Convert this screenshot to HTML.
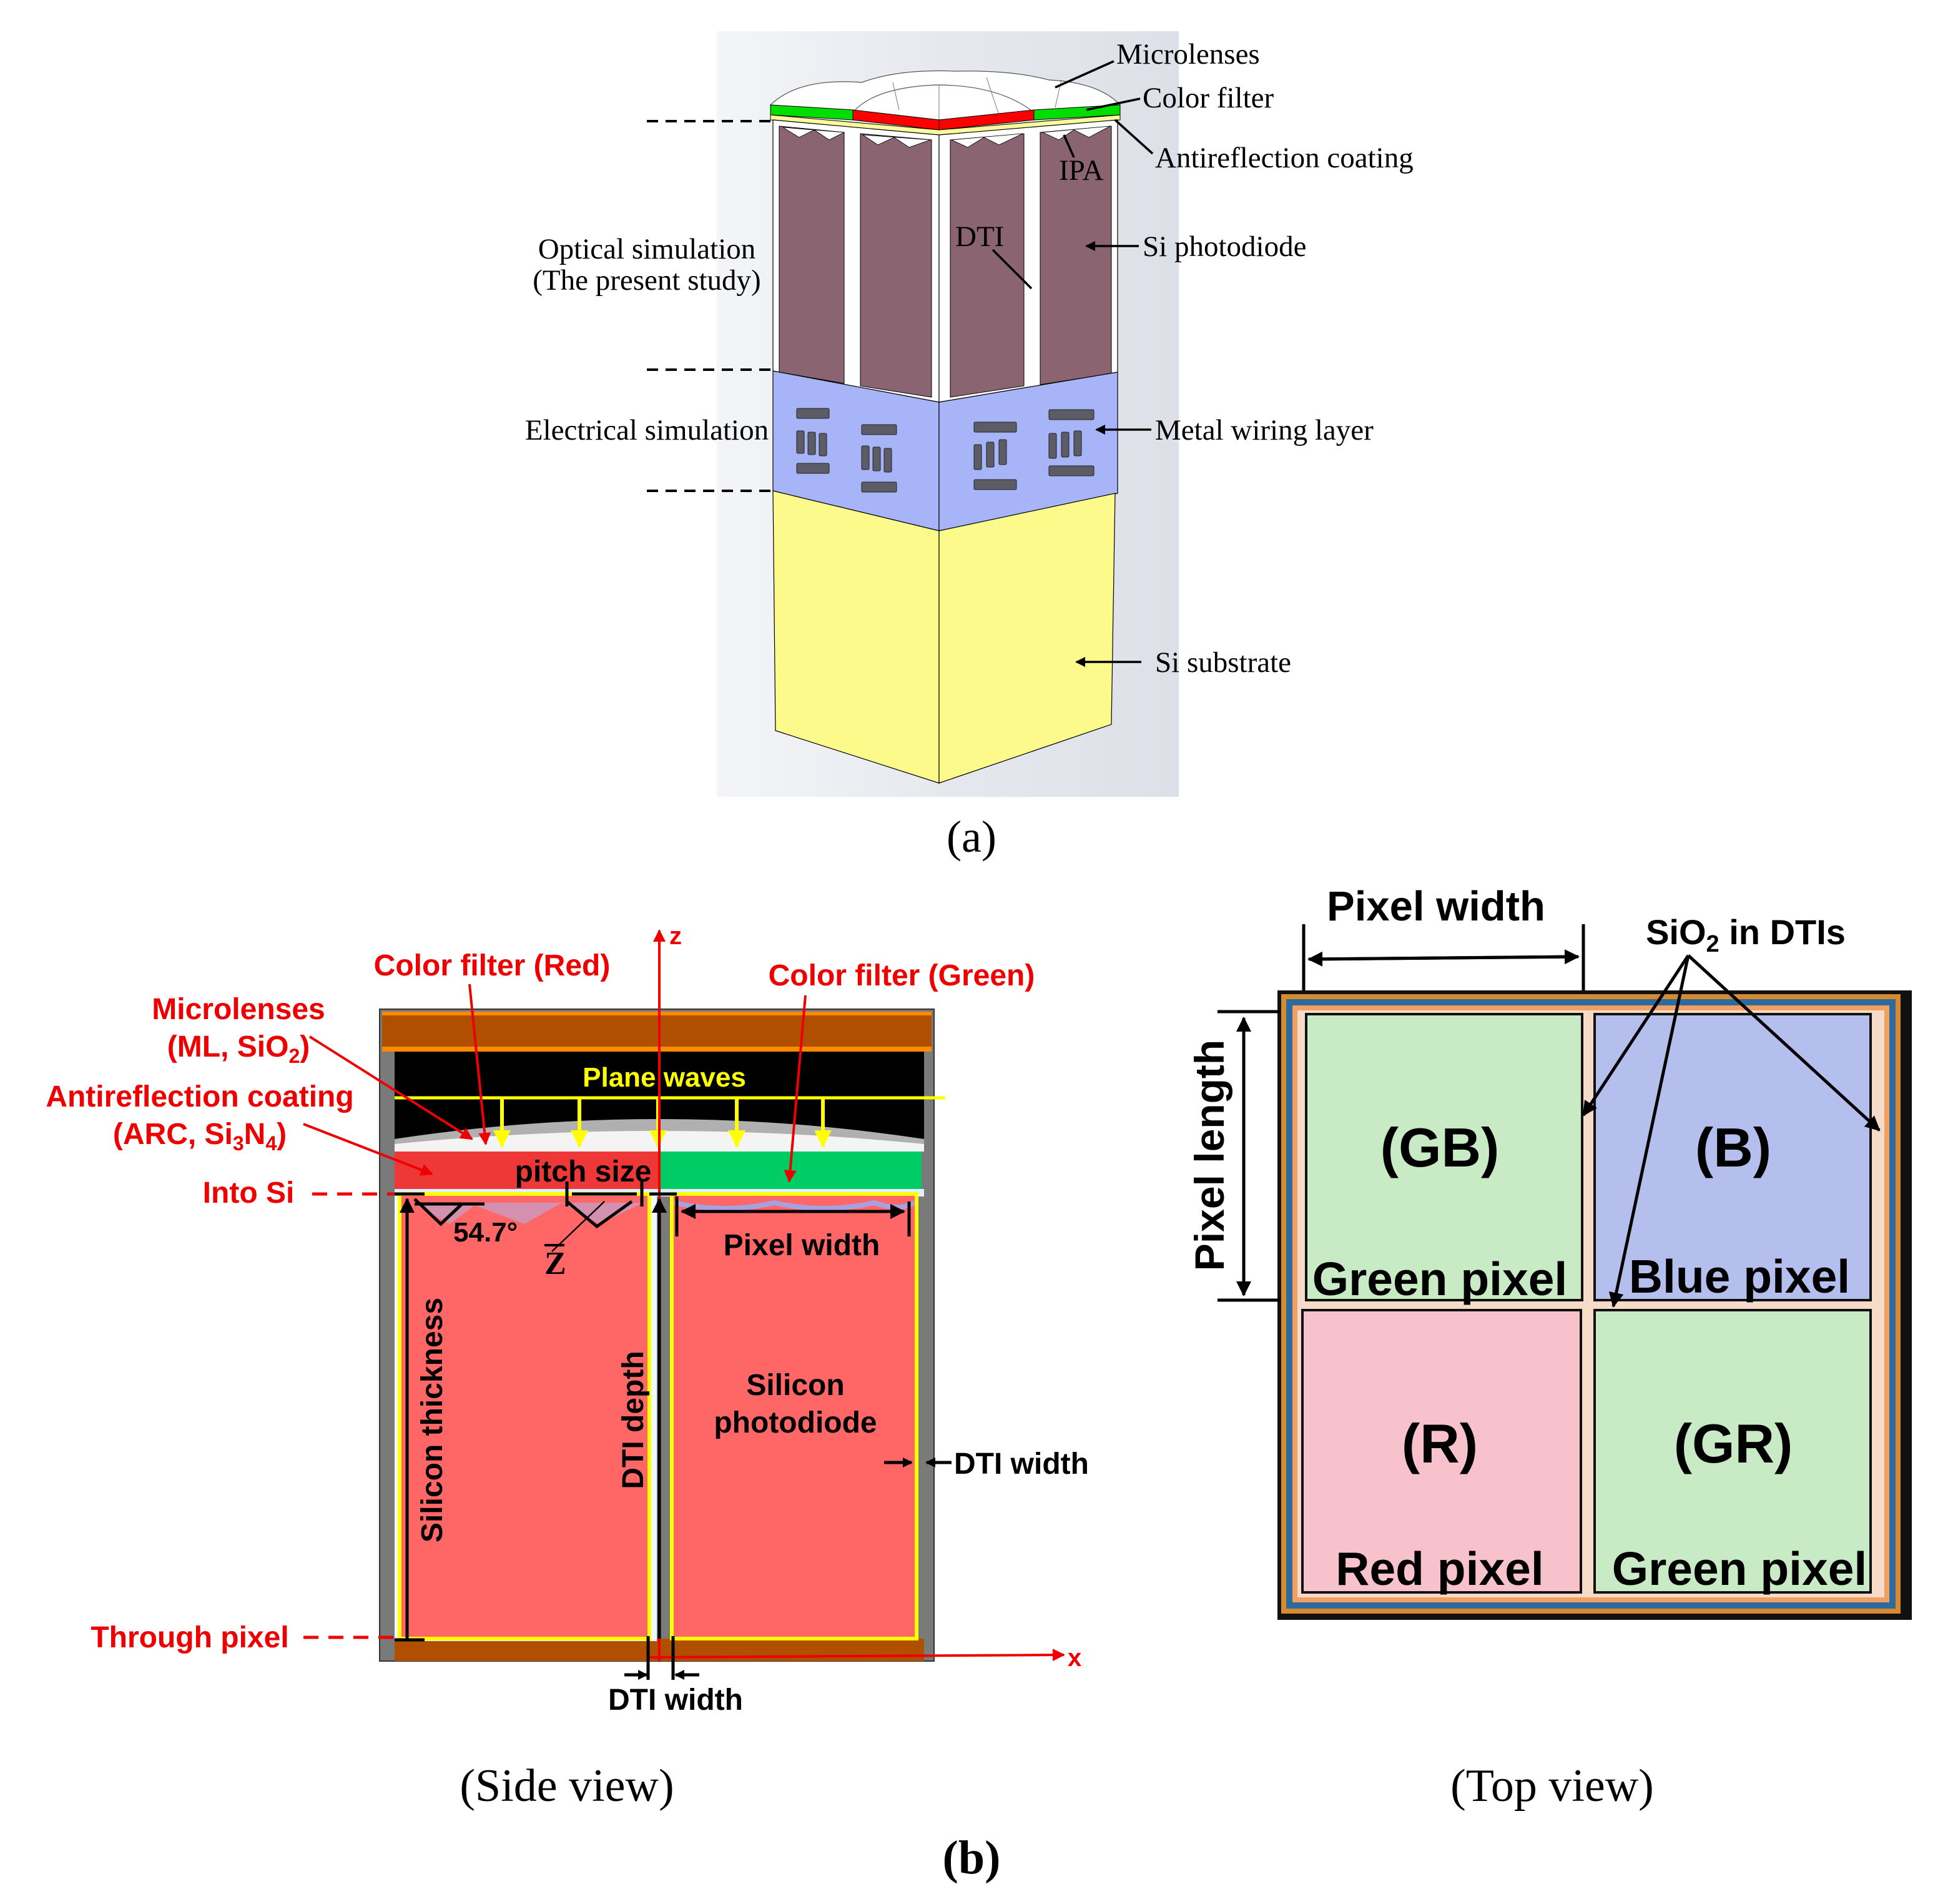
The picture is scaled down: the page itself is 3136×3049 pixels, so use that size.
<!DOCTYPE html>
<html><head><meta charset="utf-8"><style>
html,body{margin:0;padding:0;background:#fff;width:3136px;height:3049px;overflow:hidden}
svg{display:block}
.s{font-family:"Liberation Serif",serif}
.a{font-family:"Liberation Sans",sans-serif;font-weight:bold}
</style></head><body>
<svg width="3136" height="3049" viewBox="0 0 1568 1524.5" xmlns="http://www.w3.org/2000/svg">
<defs>
<marker id="ab" markerWidth="8" markerHeight="8" refX="7" refY="4" orient="auto" markerUnits="userSpaceOnUse"><path d="M0,0 L8,4 L0,8 z" fill="#000"/></marker>
<marker id="ar" markerWidth="10" markerHeight="10" refX="9" refY="5" orient="auto" markerUnits="userSpaceOnUse"><path d="M0,0 L10,5 L0,10 z" fill="#e00"/></marker>
<marker id="ay" markerWidth="14" markerHeight="14" refX="13" refY="7" orient="auto" markerUnits="userSpaceOnUse"><path d="M0,0 L14,7 L0,14 z" fill="#ff0"/></marker>
<marker id="ak" markerWidth="12" markerHeight="12" refX="11" refY="6" orient="auto" markerUnits="userSpaceOnUse"><path d="M0,0 L12,6 L0,12 z" fill="#000"/></marker>
<linearGradient id="bg" x1="0" x2="1"><stop offset="0" stop-color="#f4f5f8"/><stop offset="0.5" stop-color="#e6e8ee"/><stop offset="1" stop-color="#dde0e8"/></linearGradient>
</defs>

<!-- (a) -->
<rect x="574" y="25" width="370" height="613" fill="url(#bg)"/>
<path d="M617,84 Q640,62 690,66 Q720,55 765,57 Q810,56 840,64 Q880,66 897,84 L828,90 L752,96 L683,90 Z" fill="#fff" stroke="#555" stroke-width="0.6"/>
<path d="M683,90 Q700,70 750,68 Q800,68 828,90" fill="none" stroke="#555" stroke-width="0.6"/>
<path d="M752,96 L752,68 M715,66 L720,88 M790,62 L800,92 M850,64 L845,86" stroke="#777" stroke-width="0.5"/>
<polygon points="617,84 683,88 683,96 617,92" fill="#00dd00" stroke="#000" stroke-width="0.5"/>
<polygon points="683,88 752,96 752,104 683,96" fill="#ff0000" stroke="#000" stroke-width="0.5"/>
<polygon points="752,96 828,88 828,96 752,104" fill="#ff0000" stroke="#000" stroke-width="0.5"/>
<polygon points="828,88 897,84 897,92 828,96" fill="#00dd00" stroke="#000" stroke-width="0.5"/>
<polygon points="617,92 752,104 897,92 897,96 752,108 617,96" fill="#fdfa9c" stroke="#000" stroke-width="0.5"/>
<polygon points="619,96 752,108 752,322 619,297" fill="#fff" stroke="#000" stroke-width="0.6"/>
<polygon points="752,108 895,96 895,298 752,322" fill="#fff" stroke="#000" stroke-width="0.6"/>
<polygon points="624,101 676,106 676,307 624,298" fill="#8a6470" stroke="#000" stroke-width="0.5"/>
<polygon points="689,107 746,112 746,318 689,309" fill="#8a6470" stroke="#000" stroke-width="0.5"/>
<polygon points="761,112 820,107 820,309 761,318" fill="#8a6470" stroke="#000" stroke-width="0.5"/>
<polygon points="833,106 890,101 890,299 833,308" fill="#8a6470" stroke="#000" stroke-width="0.5"/>
<g fill="#fff" stroke="#000" stroke-width="0.4">
<path d="M627,102 L640,110 L652,104 L664,112 L676,106 Z"/><path d="M691,108 L703,116 L716,110 L728,118 L745,112 Z"/>
<path d="M762,112 L775,118 L788,110 L800,116 L819,107 Z"/><path d="M835,106 L848,112 L860,104 L872,110 L889,101 Z"/>
</g>
<polygon points="619,297 752,322 752,425 619,393" fill="#a8b4f8" stroke="#000" stroke-width="0.6"/>
<polygon points="752,322 895,298 895,395 752,425" fill="#a8b4f8" stroke="#000" stroke-width="0.6"/>
<g fill="#5c5c66" stroke="#222" stroke-width="0.5">
<rect x="638" y="327" width="26" height="8" rx="1"/><rect x="638" y="345" width="6" height="18" rx="1"/><rect x="647" y="346" width="6" height="18" rx="1"/><rect x="656" y="347" width="6" height="18" rx="1"/><rect x="638" y="371" width="26" height="8" rx="1"/>
<rect x="690" y="340" width="28" height="8" rx="1"/><rect x="690" y="357" width="6" height="19" rx="1"/><rect x="699" y="358" width="6" height="19" rx="1"/><rect x="708" y="359" width="6" height="19" rx="1"/><rect x="690" y="386" width="28" height="8" rx="1"/>
<rect x="780" y="338" width="34" height="8" rx="1"/><rect x="780" y="356" width="6" height="20" rx="1"/><rect x="790" y="354" width="6" height="20" rx="1"/><rect x="800" y="352" width="6" height="20" rx="1"/><rect x="780" y="384" width="34" height="8" rx="1"/>
<rect x="840" y="328" width="36" height="8" rx="1"/><rect x="840" y="347" width="6" height="20" rx="1"/><rect x="850" y="346" width="6" height="20" rx="1"/><rect x="860" y="345" width="6" height="20" rx="1"/><rect x="840" y="373" width="36" height="8" rx="1"/>
</g>
<polygon points="619,393 752,425 752,627 621,585" fill="#fdfa8c" stroke="#000" stroke-width="0.6"/>
<polygon points="752,425 893,395 890,580 752,627" fill="#fdfa8c" stroke="#000" stroke-width="0.6"/>
<g stroke="#000" stroke-width="2" stroke-dasharray="9,6"><line x1="518" y1="97" x2="617" y2="97"/><line x1="518" y1="296" x2="617" y2="296"/><line x1="518" y1="393" x2="617" y2="393"/></g>
<g stroke="#000" stroke-width="1.8" fill="none">
<line x1="892" y1="49" x2="845" y2="70"/><line x1="913" y1="79" x2="870" y2="88"/><line x1="923" y1="123" x2="893" y2="96"/>
<line x1="860" y1="126" x2="852" y2="108"/><line x1="795" y1="200" x2="826" y2="231"/>
<line x1="912" y1="197" x2="870" y2="197" marker-end="url(#ab)"/><line x1="922" y1="344" x2="878" y2="344" marker-end="url(#ab)"/><line x1="914" y1="530" x2="862" y2="530" marker-end="url(#ab)"/>
</g>
<g class="s" font-size="23.5" fill="#000">
<text x="894" y="51">Microlenses</text><text x="915" y="86">Color filter</text><text x="925" y="134">Antireflection coating</text>
<text x="848" y="144">IPA</text><text x="765" y="197">DTI</text><text x="915" y="205">Si photodiode</text>
<text x="518" y="207" text-anchor="middle">Optical simulation</text><text x="518" y="232" text-anchor="middle">(The present study)</text>
<text x="518" y="352" text-anchor="middle">Electrical simulation</text><text x="925" y="352">Metal wiring layer</text><text x="925" y="538">Si substrate</text>
</g>
<text class="s" x="778" y="682" font-size="36" text-anchor="middle">(a)</text>

<!-- (b) side view -->
<rect x="304" y="808" width="444" height="522" fill="#7a7a7a" stroke="#333" stroke-width="1"/>
<rect x="306" y="810" width="440" height="30" fill="#b04f00"/>
<rect x="306" y="810" width="440" height="3" fill="#ff8a00"/>
<rect x="306" y="838" width="440" height="4" fill="#ff8a00"/>
<rect x="316" y="842" width="424" height="70" fill="#000"/>
<path d="M316,912 Q528,880 740,912 L740,922 L316,922 Z" fill="#b0b0b0"/>
<path d="M316,916 Q528,895 740,916 L740,922 L316,922 Z" fill="#f4f4f4"/>
<rect x="316" y="922" width="212" height="30" fill="#ee3838"/>
<rect x="528" y="922" width="210" height="30" fill="#00cc66"/>
<rect x="316" y="952" width="424" height="6" fill="#e0f0ff"/>
<rect x="316" y="1312" width="424" height="18" fill="#b04f00"/>
<rect x="316" y="956" width="210" height="358" fill="#eef6ff"/>
<rect x="320" y="956" width="200" height="356" fill="#ff6666" stroke="#ff0" stroke-width="3"/>
<rect x="538" y="956" width="196" height="356" fill="#ff6666" stroke="#ff0" stroke-width="3"/>
<path d="M330,963 L360,980 L380,965 L420,980 L450,963 L480,980 L515,963" fill="#b8aee0" stroke="none" opacity="0.6"/>
<path d="M540,963 Q580,972 620,963 Q660,972 700,963 Q720,970 732,963" fill="none" stroke="#a8a0e0" stroke-width="4"/>
<text class="a" x="532" y="870" font-size="22" fill="#ff0" text-anchor="middle">Plane waves</text>
<line x1="316" y1="879" x2="757" y2="879" stroke="#ff0" stroke-width="2.5"/>
<g stroke="#ff0" stroke-width="3"><line x1="402" y1="879" x2="402" y2="918" marker-end="url(#ay)"/><line x1="464" y1="879" x2="464" y2="918" marker-end="url(#ay)"/><line x1="527" y1="879" x2="527" y2="918" marker-end="url(#ay)"/><line x1="590" y1="879" x2="590" y2="918" marker-end="url(#ay)"/><line x1="659" y1="879" x2="659" y2="918" marker-end="url(#ay)"/></g>
<line x1="528" y1="1330" x2="528" y2="745" stroke="#e00" stroke-width="2" marker-end="url(#ar)"/>
<line x1="520" y1="1327" x2="852" y2="1325" stroke="#e00" stroke-width="2" marker-end="url(#ar)"/>
<text class="a" x="536" y="756" font-size="20" fill="#e00">z</text><text class="a" x="855" y="1334" font-size="20" fill="#e00">x</text>
<g stroke="#e00" stroke-width="2"><line x1="376" y1="788" x2="389" y2="916" marker-end="url(#ar)"/><line x1="645" y1="797" x2="632" y2="946" marker-end="url(#ar)"/>
<line x1="248" y1="830" x2="378" y2="912" marker-end="url(#ar)"/><line x1="243" y1="900" x2="346" y2="940" marker-end="url(#ar)"/></g>
<g stroke="#e00" stroke-width="2.5" stroke-dasharray="12,8"><line x1="250" y1="956" x2="316" y2="956"/><line x1="243" y1="1311" x2="316" y2="1311"/></g>
<g class="a" font-size="24" fill="#e00" text-anchor="middle">
<text x="394" y="781">Color filter (Red)</text><text x="722" y="789">Color filter (Green)</text>
<text x="191" y="816">Microlenses</text><text x="191" y="846">(ML, SiO<tspan font-size="16" dy="5">2</tspan><tspan dy="-5">)</tspan></text>
<text x="160" y="886">Antireflection coating</text><text x="160" y="916">(ARC, Si<tspan font-size="16" dy="5">3</tspan><tspan dy="-5">N</tspan><tspan font-size="16" dy="5">4</tspan><tspan dy="-5">)</tspan></text>
<text x="199" y="963">Into Si</text><text x="152" y="1319">Through pixel</text>
</g>
<g stroke="#000" stroke-width="2.5" fill="none">
<line x1="316" y1="956" x2="340" y2="956"/><line x1="326" y1="1312" x2="326" y2="960" marker-end="url(#ak)"/><line x1="316" y1="1313" x2="340" y2="1313"/>
<line x1="520" y1="956" x2="542" y2="956"/><line x1="528" y1="1312" x2="528" y2="960" marker-end="url(#ak)"/>
<line x1="542" y1="958" x2="542" y2="990"/><line x1="728" y1="962" x2="728" y2="990"/>
<line x1="546" y1="970" x2="724" y2="970" marker-end="url(#ak)"/><line x1="700" y1="970" x2="546" y2="970" marker-end="url(#ak)"/>
<line x1="454" y1="946" x2="454" y2="966"/><line x1="514" y1="946" x2="514" y2="966"/>
<line x1="458" y1="956" x2="510" y2="956"/>
<polyline points="332,960 353,980 370,964 M373,964 L400,983 L428,965 M432,964 L456,982 L482,964"/>
<polyline points="454,962 478,982 506,962"/>
<line x1="332" y1="964" x2="388" y2="964"/>
<line x1="519" y1="1310" x2="519" y2="1345"/><line x1="539" y1="1310" x2="539" y2="1345"/>
<line x1="708" y1="1171" x2="730" y2="1171" marker-end="url(#ab)"/><line x1="762" y1="1171" x2="742" y2="1171" marker-end="url(#ab)"/>
<line x1="500" y1="1341" x2="518" y2="1341" marker-end="url(#ab)"/><line x1="560" y1="1341" x2="541" y2="1341" marker-end="url(#ab)"/>
</g>
<line x1="442" y1="1002" x2="484" y2="962" stroke="#000" stroke-width="1.2"/>
<g class="a" font-size="24" fill="#000">
<text x="467" y="946" text-anchor="middle">pitch size</text><text x="363" y="994" font-size="22">54.7°</text>
<text x="642" y="1005" text-anchor="middle">Pixel width</text>
<text x="637" y="1117" text-anchor="middle">Silicon</text><text x="637" y="1147" text-anchor="middle">photodiode</text>
<text x="764" y="1180">DTI width</text><text x="541" y="1369" text-anchor="middle">DTI width</text>
<text transform="translate(354,1137) rotate(-90)" text-anchor="middle">Silicon thickness</text>
<text transform="translate(515,1137) rotate(-90)" text-anchor="middle">DTI depth</text>
</g>
<text class="s" x="436" y="1020" font-size="26" font-weight="bold">Z</text><line x1="436" y1="997" x2="452" y2="997" stroke="#000" stroke-width="2"/>
<text class="s" x="454" y="1442" font-size="37" text-anchor="middle">(Side view)</text>
<text class="s" x="778" y="1500" font-size="38" font-weight="bold" text-anchor="middle">(b)</text>

<!-- top view -->
<rect x="1023" y="793" width="508" height="504" fill="#111"/>
<rect x="1026" y="796" width="496" height="496" fill="#d88a30"/>
<rect x="1030" y="800" width="488" height="488" fill="#2c6aa0"/>
<rect x="1035" y="805" width="478" height="478" fill="#f0a060"/>
<rect x="1039" y="809" width="470" height="470" fill="#f6dcc8"/>
<rect x="1046" y="812" width="221" height="229" fill="#c8eac4" stroke="#111" stroke-width="2"/>
<rect x="1277" y="812" width="221" height="229" fill="#b4bfee" stroke="#111" stroke-width="2"/>
<rect x="1043" y="1049" width="223" height="226" fill="#f8c2cc" stroke="#111" stroke-width="2"/>
<rect x="1277" y="1049" width="221" height="226" fill="#c8eac4" stroke="#111" stroke-width="2"/>
<g class="a" fill="#000" text-anchor="middle">
<text x="1153" y="934" font-size="44">(GB)</text><text x="1388" y="934" font-size="44">(B)</text>
<text x="1153" y="1171" font-size="44">(R)</text><text x="1388" y="1171" font-size="44">(GR)</text>
<text x="1153" y="1037" font-size="37.5">Green pixel</text><text x="1393" y="1035" font-size="37.5">Blue pixel</text>
<text x="1153" y="1269" font-size="37.5">Red pixel</text><text x="1393" y="1269" font-size="37.5">Green pixel</text>
<text x="1150" y="737" font-size="33.5">Pixel width</text>
<text x="1398" y="756" font-size="28">SiO<tspan font-size="19" dy="6">2</tspan><tspan dy="-6"> in DTIs</tspan></text>
<text transform="translate(980,925) rotate(-90)" font-size="33">Pixel length</text>
</g>
<g stroke="#000" stroke-width="2.5" fill="none">
<line x1="1044" y1="740" x2="1044" y2="793"/><line x1="1268" y1="740" x2="1268" y2="793"/>
<line x1="1050" y1="768" x2="1264" y2="766" marker-end="url(#ak)"/><line x1="1262" y1="766" x2="1048" y2="768" marker-end="url(#ak)"/>
<line x1="975" y1="810" x2="1025" y2="810"/><line x1="975" y1="1041" x2="1025" y2="1041"/>
<line x1="996" y1="815" x2="996" y2="1037" marker-end="url(#ak)"/><line x1="996" y1="1037" x2="996" y2="815" marker-end="url(#ak)"/>
<line x1="1352" y1="765" x2="1268" y2="893" marker-end="url(#ak)"/><line x1="1352" y1="765" x2="1292" y2="1046" marker-end="url(#ak)"/><line x1="1352" y1="765" x2="1505" y2="905" marker-end="url(#ak)"/>
</g>
<text class="s" x="1243" y="1442" font-size="37" text-anchor="middle">(Top view)</text>
</svg>
</body></html>
